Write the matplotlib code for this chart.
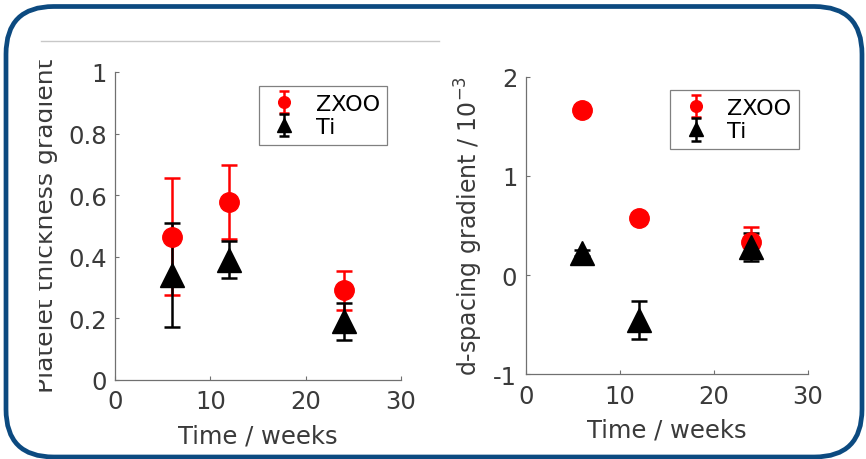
import matplotlib
matplotlib.use("Agg")
import matplotlib.pyplot as plt
from matplotlib.patches import FancyBboxPatch
from matplotlib.lines import Line2D
from matplotlib.transforms import Bbox, TransformedBbox

# data
weeks = [6, 12, 24]

thick_zxoo = [0.465, 0.577, 0.29]
thick_zxoo_err = [0.19, 0.12, 0.063]
thick_ti = [0.34, 0.39, 0.19]
thick_ti_err = [0.17, 0.06, 0.06]

dsp_zxoo = [1.66, 0.58, 0.33]
dsp_zxoo_err = [0.05, 0.05, 0.15]
dsp_ti = [0.22, -0.45, 0.28]
dsp_ti_err = [0.03, 0.19, 0.14]

series_names = ["ZXOO", "Ti"]

plt.rcParams['font.family'] = 'DejaVu Sans'
plt.rcParams['axes.unicode_minus'] = False

text_col = '#3a3a3a'
axis_col = '#707070'
fs = 17.5

fig = plt.figure(figsize=(8.66, 4.6), dpi=100)
fig.patch.set_facecolor('white')

# rounded dark blue frame
frame = FancyBboxPatch((6 / 866, 1 - 458 / 460), 856 / 866, 450.5 / 460,
                       boxstyle="round,pad=0,rounding_size=0.055",
                       transform=fig.transFigure, fill=False,
                       edgecolor='#0c4a80', linewidth=3.4,
                       mutation_aspect=866 / 460)
fig.patches.append(frame)

# thin gray line at the top of the left panel
fig.add_artist(Line2D([41 / 866, 439 / 866], [1 - 42 / 460, 1 - 42 / 460],
                      transform=fig.transFigure, color='#c8c8c8', lw=1))


def style_axes(ax, xlim, ylim, yticks):
    ax.set_xlim(*xlim)
    ax.set_ylim(*ylim)
    ax.set_xticks([0, 10, 20, 30])
    ax.set_yticks(yticks)
    for s in ['top', 'right']:
        ax.spines[s].set_visible(False)
    for s in ['left', 'bottom']:
        ax.spines[s].set_color(axis_col)
        ax.spines[s].set_linewidth(0.9)
    ax.tick_params(direction='in', length=3, width=0.8, color=axis_col,
                   labelsize=fs, labelcolor=text_col)
    ax.tick_params(axis='x', pad=7)
    ax.tick_params(axis='y', pad=6)
    ax.set_xlabel("Time / weeks", fontsize=fs, color=text_col, labelpad=7)


def draw(ax, y1, e1, y2, e2):
    ax.errorbar(weeks, y1, yerr=e1, fmt='o', color='#ff0000', ms=14,
                elinewidth=1.8, capsize=5.5, capthick=1.8, label=series_names[0],
                clip_on=False)
    ax.errorbar(weeks, y2, yerr=e2, fmt='^', color='black', ms=17,
                elinewidth=1.8, capsize=5.5, capthick=1.8, label=series_names[1],
                clip_on=False)


def add_legend(ax, x0):
    leg = ax.legend(loc='upper left', bbox_to_anchor=(x0, 0.955), borderaxespad=0,
                    fancybox=False, edgecolor='#808080', fontsize=16,
                    markerscale=0.6, handlelength=1.6, handletextpad=0.6,
                    labelspacing=0.15, borderpad=0.35, framealpha=1)
    leg.get_frame().set_linewidth(0.9)
    # narrow caps on the legend symbols
    for ln in leg.findobj(Line2D):
        if ln.get_marker() == '_':
            ln.set_markersize(7)


ax1 = fig.add_axes([115 / 866, 1 - 380.7 / 460, 286 / 866, 307.7 / 460])
draw(ax1, thick_zxoo, thick_zxoo_err, thick_ti, thick_ti_err)
style_axes(ax1, (0, 30), (0, 1), [0, 0.2, 0.4, 0.6, 0.8, 1])
ax1.set_yticklabels(['0', '0.2', '0.4', '0.6', '0.8', '1'])
add_legend(ax1, 0.503)

ax2 = fig.add_axes([525.7 / 866, 1 - 375.3 / 460, 282 / 866, 297.6 / 460])
draw(ax2, dsp_zxoo, dsp_zxoo_err, dsp_ti, dsp_ti_err)
style_axes(ax2, (0, 30), (-1, 2), [-1, 0, 1, 2])
add_legend(ax2, 0.512)

# y labels (left one is cut at the edge of the pasted panel)
yl1 = fig.text(58 / 866, 1 - 226 / 460, "Platelet thickness gradient", rotation=90,
               ha='right', va='center', fontsize=fs + 0.5, color=text_col)
yl1.set_clip_box(TransformedBbox(Bbox([[39 / 866, 0], [1, 1]]), fig.transFigure))
yl1.set_clip_on(True)

fig.text(485 / 866, 1 - 226 / 460, "d-spacing gradient / 10$^{-3}$", rotation=90,
         ha='right', va='center', fontsize=17, color=text_col)

fig.savefig("out.png", dpi=100)
